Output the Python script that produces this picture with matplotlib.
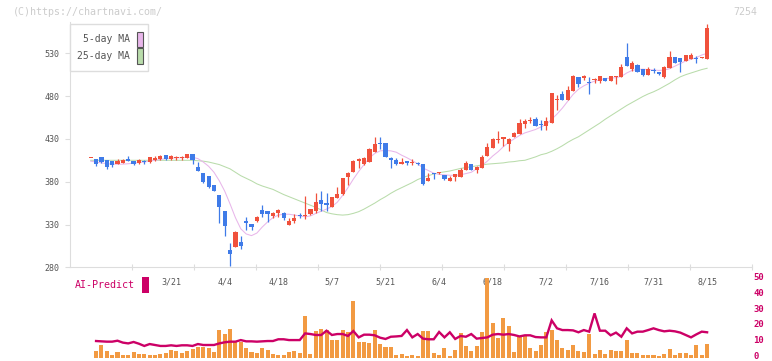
import numpy as np
import matplotlib
matplotlib.use("Agg")
import matplotlib.pyplot as plt
from matplotlib.patches import Rectangle
from matplotlib.transforms import blended_transform_factory, ScaledTranslation

# ---- data (index 0 .. 115, last bar = 8/15) ----
opens = [408, 406.5, 408.5, 405, 404, 401, 402.3, 406.5, 404.3, 402.3,
         404.5, 403, 405.5, 406.5, 411, 406, 408, 408.2, 408, 412.3,
         397, 390, 386.7, 376, 364.5, 345.8, 300, 304, 309, 334,
         330.6, 334.5, 347, 345.8, 340, 344, 344, 330, 334, 340.2,
         339.5, 342, 345.8, 358.3, 355.2, 350.8, 361.3, 365.3, 386, 391.7,
         404, 400.3, 403.4, 415, 425.5, 425, 408, 405.4, 401, 404.5,
         401.8, 402.2, 400.3, 381.2, 389.8, 389.7, 387.8, 381.2, 385, 386,
         393.7, 400.7, 393.7, 396.4, 410, 419.7, 429, 429.5, 424.4, 432.2,
         436.1, 447.8, 451.2, 452.9, 446.5, 445.4, 448.1, 475.8, 482.4, 475.4,
         486, 502, 501, 496.3, 498.8, 498, 500.8, 498, 502.7, 502.7,
         525.6, 511.3, 516.4, 511.3, 505, 510.3, 508, 502.7, 513.2, 525.6,
         524.5, 521, 523.7, 523.8, 524.7, 523.7]
closes = [408, 401, 403.3, 397, 399.5, 404.5, 405.5, 404.3, 401, 405.5,
          403, 408.5, 408, 410, 406.5, 410, 408.8, 408.8, 412.3, 405.7,
          392.8, 380, 374, 369.5, 350.8, 328.6, 296, 321, 305, 332,
          327.4, 338.7, 342.7, 342, 344, 347, 338, 334.5, 337.6, 339.8,
          340.5, 348, 356, 353.6, 352.8, 362, 365.6, 384, 390.6, 404.2,
          406.2, 407.3, 418.2, 424, 424.5, 409.2, 405, 400.6, 403.4, 402.2,
          402.5, 400.3, 377.3, 384.3, 388.6, 390.3, 382.8, 384.7, 389, 393.7,
          401.8, 393.7, 397.5, 408.8, 420.5, 430, 430, 432.2, 430, 437,
          448.6, 451, 452, 445.4, 445.9, 450.5, 483.5, 476.5, 475.4, 487,
          503.9, 494, 503.5, 495.7, 499.5, 503.5, 498, 503.5, 503.3, 514,
          515.2, 518.7, 508.5, 505, 511.3, 509.7, 505.5, 514.4, 525.6, 519,
          520.2, 528, 528.4, 523.2, 525.3, 560]
highs = [408, 407, 409, 405.7, 404.5, 406, 406, 409.7, 404.5, 406,
         405.5, 409, 410, 411, 411.5, 411, 410, 410, 412.5, 412.5,
         402.7, 390.5, 386.7, 376.5, 365, 346, 308, 322, 316.6, 338.5,
         331, 340, 352.7, 346, 345, 348, 344.5, 337.3, 342.3, 343,
         363.3, 348.5, 367, 369, 367, 362.5, 373.6, 384.5, 391, 405.3,
         407.5, 408.5, 419, 432, 432, 425.5, 409.2, 407.3, 407.3, 404.7,
         406.9, 402.5, 400.5, 390.6, 390, 391, 388, 386.5, 389.5, 396.4,
         404.5, 401, 398, 411.2, 424.9, 430.5, 439.2, 432.5, 430.5, 438.4,
         452.9, 453, 455.2, 456, 452, 455.2, 484, 481.6, 486, 491.8,
         504.6, 502.5, 504.6, 502, 501.5, 504, 501, 504, 504, 517.5,
         542.4, 521.4, 517, 511.5, 513.6, 513.2, 508.5, 515, 532.7, 526,
         525, 528.5, 530, 526.8, 526, 564]
lows = [408, 398.7, 402, 395, 397, 401, 402, 404, 399, 401,
        401, 402.3, 404.3, 405.7, 405.7, 405.5, 405, 405, 408, 400.6,
        392.5, 378, 373, 369, 332, 317, 281.8, 304, 301, 324,
        324, 333.5, 339, 333, 337.6, 339, 335.6, 329.5, 332.2, 337.6,
        336, 341.5, 343.8, 346, 346, 350, 361, 365, 376, 391.5,
        396.5, 399.5, 403, 414.5, 418.2, 409, 396.4, 399.5, 401, 399,
        399, 400, 376, 381, 383.5, 388.6, 382, 381, 381.2, 386,
        393.5, 393.5, 389.8, 396, 410, 419.5, 424.9, 421.7, 416.2, 432,
        436, 443.1, 448.2, 445, 440.4, 440.8, 448, 464, 475, 475,
        485.5, 491, 498.8, 482.4, 495, 495.3, 497.5, 497.5, 494, 502.5,
        515, 509.3, 508, 503.8, 505, 506.6, 505, 501.5, 513, 518.5,
        508.5, 520.5, 523.5, 519, 524, 523.5]

ma5 = [404, 403, 402, 401, 400.5, 400.5, 400.5, 401, 401.5, 402.5,
       403, 404, 405, 406, 407, 407.5, 408, 408, 408.5, 408.5,
       407, 403, 398, 391, 381, 369, 354, 338, 325, 319,
       317, 320, 327, 333, 338, 341, 342, 342, 341, 340,
       339, 340, 343, 345.5, 348, 351, 356, 364, 373, 383,
       392, 400, 408, 413, 416, 416.5, 416, 414.5, 411, 408,
       404.5, 401, 396, 393, 390, 388.5, 388, 387.5, 387.5, 388,
       389.5, 391, 395, 399, 404, 410, 415, 421, 426, 430,
       434, 437, 439, 441, 444, 447, 453, 459, 466, 474,
       482, 488, 492, 495, 497.5, 499, 500.5, 501, 501.5, 503,
       507, 510, 511, 511.5, 511, 510.5, 510, 510.5, 512, 515,
       518, 521, 523, 525, 528, 530]
ma25 = [405, 405, 405, 405, 405, 405, 405, 405, 405, 405,
        405, 405, 405, 405, 405, 405, 405, 405, 405, 405,
        404.5, 404, 403, 401.5, 400, 397.5, 395, 391, 387, 384,
        381, 377.5, 375, 373, 371, 368, 365, 362.5, 360, 357.5,
        355, 352.5, 350, 347, 344, 342.5, 341.5, 341, 341.5, 343,
        345, 348, 351.5, 355, 359, 362.5, 366.5, 370, 373, 376,
        379, 382.5, 385, 387, 389, 390.5, 391.5, 392.5, 394, 395.5,
        396.5, 397.5, 398.5, 399.5, 400.5, 401, 401.5, 402, 403, 403.5,
        404.5, 405, 407, 409, 411.5, 413, 415.5, 418.5, 422, 426,
        429.5, 432.5, 436.5, 440.5, 444.5, 448.5, 453, 457, 461, 465,
        469, 472.5, 476, 479.5, 482.5, 485, 488, 491.5, 495, 499,
        502.5, 505, 507, 509, 511, 512.5]

volume = [0, 7, 13, 7, 3, 6, 3, 3, 6, 4,
          4, 3, 3, 4, 5, 8, 7, 5, 7, 9,
          11, 11, 10, 6, 28, 24, 29, 17, 16, 10,
          6, 5, 10, 8, 4, 3, 3, 6, 7, 5,
          42, 4, 27, 29, 28, 18, 18, 28, 26, 57,
          16, 16, 15, 28, 14, 11, 11, 3, 4, 2,
          3, 2, 27, 27, 5, 3, 10, 2, 8, 25,
          12, 7, 12, 26, 80, 35, 20, 40, 32, 6,
          22, 22, 10, 7, 13, 26, 28, 18, 10, 8,
          13, 7, 6, 24, 4, 8, 4, 8, 7, 7,
          18, 5, 5, 3, 3, 3, 2, 4, 9, 3,
          5, 5, 3, 13, 3, 14]

ai_predict = [np.nan, 10.5, 10.3, 10.1, 10.1, 10.7, 9.5, 9.0, 9.9, 8.8,
              7.4, 8.6, 8.0, 7.4, 7.4, 7.8, 7.4, 7.8, 7.8, 7.4,
              8.6, 8.0, 8.0, 8.0, 9.0, 9.7, 10.1, 10.1, 11.1, 10.3,
              10.3, 10.1, 10.3, 10.5, 10.5, 11.6, 11.6, 11.1, 11.1, 11.1,
              15.3, 14.9, 14.3, 14.3, 17.0, 14.3, 14.9, 14.9, 13.7, 16.8,
              12.8, 14.5, 14.5, 14.1, 12.6, 11.8, 13.2, 13.4, 13.7, 17.4,
              12.8, 14.9, 12.0, 11.6, 11.6, 16.2, 12.8, 16.0, 11.8, 13.7,
              13.2, 14.9, 12.0, 12.4, 12.8, 14.5, 14.9, 14.5, 14.9, 14.3,
              13.4, 14.1, 14.1, 13.0, 12.8, 12.8, 23.5, 18.5, 17.4, 17.4,
              17.2, 16.0, 17.4, 16.4, 27.9, 17.0, 17.0, 14.1, 15.8, 13.2,
              18.5, 15.3, 16.4, 16.4, 17.4, 18.5, 17.4, 16.6, 17.0, 16.6,
              15.8, 14.3, 12.8, 14.7, 16.4, 16.0]

date_labels = ['3/21', '4/4', '4/18', '5/7', '5/21', '6/4',
               '6/18', '7/2', '7/16', '7/31', '8/15']
date_idx = [15, 25, 35, 45, 55, 65, 75, 85, 95, 105, 115]
price_ticks = [280, 330, 380, 430, 480, 530]
ai_ticks = [0, 10, 20, 30, 40, 50]

# ---- colors / fonts ----
UP = '#f0513c'
DOWN = '#3f7be8'
PINK = '#e8b6ea'
GREEN = '#b9dcab'
VOL = '#f29a42'
AI = '#cc0066'
GRID = '#dddddd'
TXT = '#555555'
plt.rcParams['font.family'] = ['DejaVu Sans Mono']

W, H = 772, 361
fig = plt.figure(figsize=(W / 100, H / 100), dpi=100)
fig.patch.set_facecolor('white')


def fx(px):
    return px / W


def fy(py):
    return 1 - py / H


# x index -> pixel: 90.7 + 5.36 * i
x0, dx = 90.7, 5.36
xlim = ((70 - x0) / dx, (752 - x0) / dx)
n = len(closes)
idx = np.arange(n)

# ---- price panel ----
top, bot = 22, 267.3
ax = fig.add_axes([fx(70), fy(bot), (752 - 70) / W, (bot - top) / H])
ax.set_xlim(*xlim)
ax.set_ylim(280, 280 + (bot - top) / 0.856)

o = np.array(opens)
c = np.array(closes)
colors = [UP if cc >= oo else DOWN for oo, cc in zip(o, c)]
body_lo = np.minimum(o, c)
body_h = np.maximum(np.abs(c - o), 1.2)
ax.vlines(idx, lows, highs, colors=colors, linewidth=0.9, zorder=3)
ax.bar(idx, body_h, bottom=body_lo, width=0.78, color=colors, linewidth=0, zorder=4)
ax.plot(idx, ma25, color=GREEN, linewidth=0.75, zorder=2)
ax.plot(idx, ma5, color=PINK, linewidth=0.75, zorder=2)

for s in ['top', 'right']:
    ax.spines[s].set_visible(False)
for s in ['left', 'bottom']:
    ax.spines[s].set_color(GRID)
ax.set_yticks(price_ticks)
ax.set_yticklabels([str(t) for t in price_ticks])
ax.tick_params(axis='y', colors=GRID, labelcolor=TXT, labelsize=6, length=3.6, pad=4)
tick_px = np.arange(132, 753, 62)
ax.set_xticks((tick_px - x0) / dx)
ax.set_xticklabels([])
ax.tick_params(axis='x', colors=GRID, length=4.5, direction='inout')

trans = blended_transform_factory(ax.transData, fig.transFigure)
for lab, i in zip(date_labels, date_idx):
    ax.text(i, fy(282), lab, transform=trans, ha='center', va='center',
            fontsize=6, color=TXT)

# legend box
fig.patches.append(Rectangle((fx(70), fy(71)), (148 - 70) / W, (71 - 24) / H,
                             transform=fig.transFigure, facecolor='white',
                             edgecolor=GRID, linewidth=1, zorder=10))
for lab, col, yy in [('5-day MA', PINK, 39.5), ('25-day MA', GREEN, 56)]:
    fig.text(fx(130), fy(yy), lab, ha='right', va='center', fontsize=7,
             color=TXT, zorder=11)
    fig.patches.append(Rectangle((fx(137), fy(yy + 7.5)), 5.5 / W, 15 / H,
                                 transform=fig.transFigure, facecolor=col,
                                 edgecolor=TXT, linewidth=0.8, zorder=11))

# ---- volume / AI-Predict panel ----
ptop, pbot = 278.3, 357.7
ax2 = fig.add_axes([fx(70), fy(pbot), (752 - 70) / W, (pbot - ptop) / H])
ax2.set_xlim(*xlim)
ax2.set_ylim(0, pbot - ptop)
ax2.bar(idx, volume, width=0.75, color=VOL, linewidth=0)
ax2.axis('off')

ax3 = ax2.twinx()
ax3.set_xlim(*xlim)
ax3.set_ylim(0, 50)
ax3.plot(idx, ai_predict, color=AI, linewidth=1.7, solid_joinstyle='miter')
for s in ax3.spines.values():
    s.set_visible(False)
ax3.set_xticks([])
ax3.set_yticks(ai_ticks)
ax3.set_yticklabels([str(t) for t in ai_ticks])
ax3.tick_params(axis='y', length=0, pad=1, labelsize=6.5, labelcolor=AI)
shift = ScaledTranslation(0, 2 / 100, fig.dpi_scale_trans)
for t in ax3.get_yticklabels():
    t.set_fontweight('bold')
    t.set_transform(t.get_transform() + shift)

fig.text(fx(75), fy(285.5), 'AI-Predict', ha='left', va='center',
         fontsize=7.2, color=AI)
fig.patches.append(Rectangle((fx(142), fy(293)), 6.5 / W, 16 / H,
                             transform=fig.transFigure, facecolor=AI,
                             edgecolor='none'))

# watermark / code
fig.text(fx(13), fy(12), '(C)https://chartnavi.com/', ha='left', va='center',
         fontsize=7.2, color='#cccccc')
fig.text(fx(757), fy(12), '7254', ha='right', va='center',
         fontsize=7.2, color='#cccccc')

fig.savefig('out.png', dpi=100)
